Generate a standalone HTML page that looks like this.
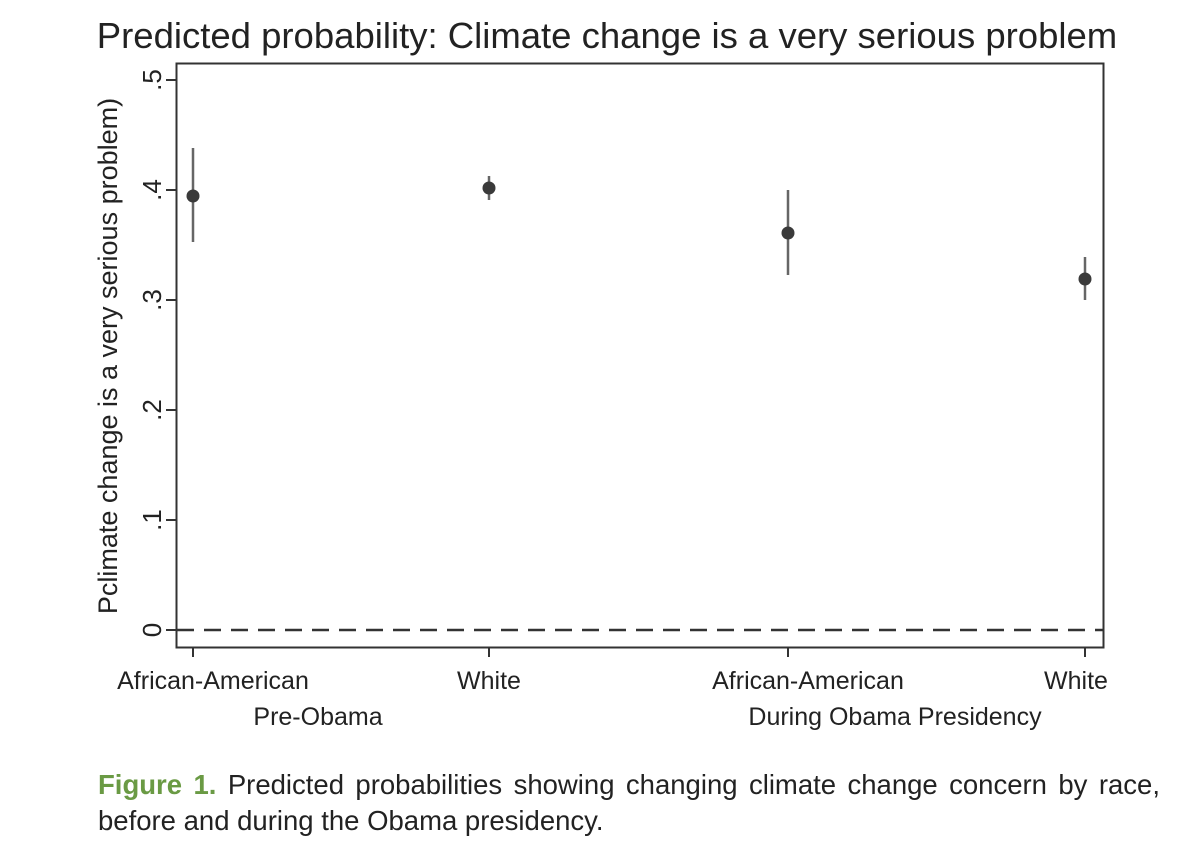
<!DOCTYPE html>
<html><head><style>
body{margin:0;background:#fff;width:1200px;height:867px;overflow:hidden;font-family:"Liberation Sans",Arial,sans-serif}
.cap{position:absolute;left:98px;top:767px;width:1062px;font-size:27.5px;line-height:36px;color:#222;text-align:justify;text-align-last:left}
.cap b{color:#6a9a44;font-weight:bold}
</style></head><body>
<svg width="1200" height="867" style="position:absolute;left:0;top:0" font-family="Liberation Sans, Arial, sans-serif">
<text x="607" y="48" font-size="36.5" text-anchor="middle" fill="#222">Predicted probability: Climate change is a very serious problem</text>
<rect x="176.5" y="63.5" width="927" height="584" fill="none" stroke="#333" stroke-width="2"/>
<g stroke="#333" stroke-width="2">
<line x1="166" y1="80" x2="176" y2="80"/><line x1="166" y1="190" x2="176" y2="190"/><line x1="166" y1="300" x2="176" y2="300"/><line x1="166" y1="410" x2="176" y2="410"/><line x1="166" y1="520" x2="176" y2="520"/><line x1="166" y1="630" x2="176" y2="630"/>
<line x1="193" y1="647" x2="193" y2="657"/><line x1="489" y1="647" x2="489" y2="657"/><line x1="788" y1="647" x2="788" y2="657"/><line x1="1085" y1="647" x2="1085" y2="657"/>
</g>
<line x1="177" y1="630" x2="1103" y2="630" stroke="#333" stroke-width="2.5" stroke-dasharray="17,10"/>
<g font-size="25" fill="#222" text-anchor="middle">
<text transform="translate(161,80) rotate(-90)" font-size="26">.5</text>
<text transform="translate(161,190) rotate(-90)" font-size="26">.4</text>
<text transform="translate(161,300) rotate(-90)" font-size="26">.3</text>
<text transform="translate(161,410) rotate(-90)" font-size="26">.2</text>
<text transform="translate(161,520) rotate(-90)" font-size="26">.1</text>
<text transform="translate(161,630) rotate(-90)" font-size="26">0</text>
<text transform="translate(117,356) rotate(-90)" font-size="27">Pclimate change is a very serious problem)</text>
<text x="213" y="689">African-American</text>
<text x="489" y="689">White</text>
<text x="808" y="689">African-American</text>
<text x="1076" y="689">White</text>
<text x="318" y="725">Pre-Obama</text>
<text x="895" y="725">During Obama Presidency</text>
</g>
<g stroke="#666" stroke-width="2.5">
<line x1="193" y1="148" x2="193" y2="242"/>
<line x1="489" y1="176" x2="489" y2="200"/>
<line x1="788" y1="190" x2="788" y2="275"/>
<line x1="1085" y1="257" x2="1085" y2="300"/>
</g>
<g fill="#3a3a3a">
<circle cx="193" cy="196" r="6.5"/><circle cx="489" cy="188" r="6.5"/><circle cx="788" cy="233" r="6.5"/><circle cx="1085" cy="279" r="6.5"/>
</g>
</svg>
<div class="cap"><b>Figure 1.</b> Predicted probabilities showing changing climate change concern by race, before and during the Obama presidency.</div>
</body></html>
